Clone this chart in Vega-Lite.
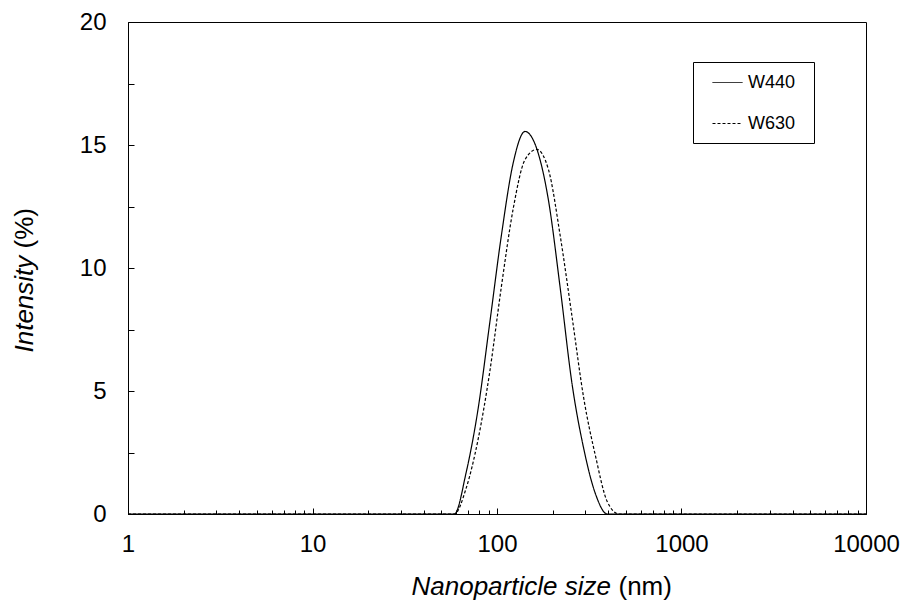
{
  "$schema": "https://vega.github.io/schema/vega-lite/v6.json",
  "width": 738,
  "height": 492,
  "autosize": {"type": "none"},
  "padding": {"left": 128, "top": 22, "right": 36, "bottom": 86},
  "background": "#ffffff",
  "config": {
    "font": "Liberation Sans",
    "view": {"stroke": "#000000", "strokeWidth": 1},
    "axis": {
      "domainColor": "#000000",
      "domainWidth": 1,
      "tickColor": "#000000",
      "tickWidth": 1,
      "grid": false,
      "labelFlush": false,
      "labelFont": "Liberation Sans",
      "labelFontSize": 24,
      "labelColor": "#000000",
      "titleFont": "Liberation Sans",
      "titleFontSize": 26,
      "titleColor": "#000000",
      "titleFontWeight": "normal"
    }
  },
  "data": {
    "values": [
      {"size": 1, "intensity": 0, "sample": "W440"},
      {"size": 10, "intensity": 0, "sample": "W440"},
      {"size": 50.75, "intensity": 0, "sample": "W440"},
      {"size": 58.77, "intensity": 0, "sample": "W440"},
      {"size": 68.06, "intensity": 1.69, "sample": "W440"},
      {"size": 78.82, "intensity": 4.23, "sample": "W440"},
      {"size": 91.28, "intensity": 7.75, "sample": "W440"},
      {"size": 105.7, "intensity": 11.34, "sample": "W440"},
      {"size": 122.4, "intensity": 14.27, "sample": "W440"},
      {"size": 141.8, "intensity": 15.55, "sample": "W440"},
      {"size": 164.2, "intensity": 14.85, "sample": "W440"},
      {"size": 190.1, "intensity": 12.75, "sample": "W440"},
      {"size": 220.2, "intensity": 9.17, "sample": "W440"},
      {"size": 255.0, "intensity": 5.3, "sample": "W440"},
      {"size": 295.3, "intensity": 2.65, "sample": "W440"},
      {"size": 342.0, "intensity": 0.81, "sample": "W440"},
      {"size": 396.1, "intensity": 0, "sample": "W440"},
      {"size": 458.7, "intensity": 0, "sample": "W440"},
      {"size": 1000, "intensity": 0, "sample": "W440"},
      {"size": 10000, "intensity": 0, "sample": "W440"},
      {"size": 1, "intensity": 0, "sample": "W630"},
      {"size": 10, "intensity": 0, "sample": "W630"},
      {"size": 50.75, "intensity": 0, "sample": "W630"},
      {"size": 58.77, "intensity": 0, "sample": "W630"},
      {"size": 68.06, "intensity": 1.05, "sample": "W630"},
      {"size": 78.82, "intensity": 3.0, "sample": "W630"},
      {"size": 91.28, "intensity": 5.76, "sample": "W630"},
      {"size": 105.7, "intensity": 9.26, "sample": "W630"},
      {"size": 122.4, "intensity": 12.41, "sample": "W630"},
      {"size": 141.8, "intensity": 14.4, "sample": "W630"},
      {"size": 164.2, "intensity": 14.82, "sample": "W630"},
      {"size": 190.1, "intensity": 14.0, "sample": "W630"},
      {"size": 220.2, "intensity": 11.3, "sample": "W630"},
      {"size": 255.0, "intensity": 8.03, "sample": "W630"},
      {"size": 295.3, "intensity": 4.7, "sample": "W630"},
      {"size": 342.0, "intensity": 2.35, "sample": "W630"},
      {"size": 396.1, "intensity": 0.5, "sample": "W630"},
      {"size": 458.7, "intensity": 0, "sample": "W630"},
      {"size": 531.2, "intensity": 0, "sample": "W630"},
      {"size": 1000, "intensity": 0, "sample": "W630"},
      {"size": 10000, "intensity": 0, "sample": "W630"}
    ]
  },
  "layer": [
    {
      "mark": {"type": "line", "interpolate": "monotone", "strokeWidth": 1.2, "color": "#000000"},
      "encoding": {
        "x": {
          "field": "size",
          "type": "quantitative",
          "scale": {"type": "log", "domain": [1, 10000]},
          "axis": {
            "orient": "bottom",
            "values": [1, 10, 100, 1000, 10000],
            "format": "d",
            "tickSize": -6,
            "labelPadding": 24,
            "title": "Nanoparticle size",
            "titleFontStyle": "italic",
            "titleAlign": "left",
            "titleBaseline": "alphabetic",
            "titleX": 283,
            "titleY": 80
          }
        },
        "y": {
          "field": "intensity",
          "type": "quantitative",
          "scale": {"domain": [0, 20]},
          "axis": {
            "orient": "left",
            "values": [0, 5, 10, 15, 20],
            "format": "d",
            "tickSize": -6,
            "labelPadding": 28,
            "title": "Intensity",
            "titleFontStyle": "italic",
            "titleAngle": -90,
            "titleAlign": "left",
            "titleBaseline": "alphabetic",
            "titleX": -96,
            "titleY": 330
          }
        },
        "strokeDash": {
          "field": "sample",
          "type": "nominal",
          "scale": {"domain": ["W440", "W630"], "range": [[1, 0], [3, 2]]},
          "legend": {
            "title": " ",
            "titleOrient": "right",
            "titleFontSize": 18,
            "titlePadding": 9,
            "orient": "none",
            "legendX": 565,
            "legendY": 40,
            "strokeColor": "#000000",
            "fillColor": "#ffffff",
            "padding": 10,
            "rowPadding": 21,
            "symbolType": "M-1.5,0H1.5",
            "symbolSize": 400,
            "symbolStrokeColor": "#000000",
            "symbolStrokeWidth": 1,
            "symbolOffset": 14,
            "labelOffset": 10,
            "labelFont": "Liberation Sans",
            "labelFontSize": 18,
            "labelColor": "#000000"
          }
        }
      }
    },
    {
      "mark": {"type": "line", "opacity": 0},
      "encoding": {
        "x": {
          "field": "size",
          "type": "quantitative",
          "axis": {
            "orient": "bottom",
            "values": [2, 3, 4, 5, 6, 7, 8, 9, 20, 30, 40, 50, 60, 70, 80, 90, 200, 300, 400, 500, 600, 700, 800, 900, 2000, 3000, 4000, 5000, 6000, 7000, 8000, 9000],
            "labels": false,
            "domain": false,
            "tickSize": -4,
            "title": "(nm)",
            "titleFontStyle": "normal",
            "titleAlign": "left",
            "titleBaseline": "alphabetic",
            "titleX": 490,
            "titleY": 80
          }
        },
        "y": {
          "field": "intensity",
          "type": "quantitative",
          "axis": {
            "orient": "left",
            "values": [2.5, 7.5, 12.5, 17.5],
            "labels": false,
            "domain": false,
            "tickSize": -6,
            "title": "(%)",
            "titleFontStyle": "normal",
            "titleAngle": -90,
            "titleAlign": "left",
            "titleBaseline": "alphabetic",
            "titleX": -96,
            "titleY": 226
          }
        },
        "detail": {"field": "sample", "type": "nominal"}
      }
    }
  ],
  "resolve": {"axis": {"x": "independent", "y": "independent"}}
}
